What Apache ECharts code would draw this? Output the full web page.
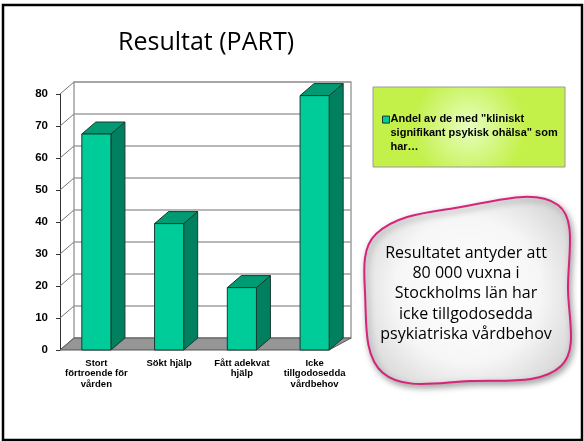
<!DOCTYPE html>
<html>
<head>
<meta charset="utf-8">
<script src="https://cdn.jsdelivr.net/npm/echarts@6/dist/echarts.min.js"></script>
<style>
  html, body { margin: 0; padding: 0; background: #fff; }
  #main { width: 584px; height: 441px; }
</style>
</head>
<body>
<div id="main"></div>
<script>
var categories = ['Stort\nförtroende för\nvården', 'Sökt hjälp', 'Fått adekvat\nhjälp', 'Icke\ntillgodosedda\nvårdbehov'];
var values = [67.5, 39.5, 19.5, 79.5];
var yTicks = [0, 10, 20, 30, 40, 50, 60, 70, 80];
var seriesName = 'Andel av de med "kliniskt\nsignifikant psykisk ohälsa" som\nhar…';

// 3D depth offset
var DX = 14, DY = -12;

var chart = echarts.init(document.getElementById('main'));

function renderWalls(params, api) {
  var cs = params.coordSys;
  var x0 = cs.x, W = cs.width;
  var y0 = api.coord([0, 0])[1];
  var yTop = api.coord([0, 80])[1];
  var children = [];
  // back wall frame
  children.push({
    type: 'rect',
    shape: { x: x0 + DX, y: yTop + DY, width: W - DX, height: y0 - yTop },
    style: { fill: '#fff', stroke: '#a0a0a0', lineWidth: 1.5 }
  });
  yTicks.forEach(function (v) {
    var y = api.coord([0, v])[1];
    if (v > 0) {
      children.push({
        type: 'line',
        shape: { x1: x0 + DX, y1: y + DY, x2: x0 + W, y2: y + DY },
        style: { stroke: '#a0a0a0', lineWidth: 1.5 }
      });
    }
    children.push({
      type: 'line',
      shape: { x1: x0, y1: y, x2: x0 + DX, y2: y + DY },
      style: { stroke: '#777', lineWidth: 1 }
    });
  });
  // floor
  children.push({
    type: 'polygon',
    shape: { points: [[x0, y0], [x0 + W - 22, y0], [x0 + W, y0 + DY], [x0 + DX, y0 + DY]] },
    style: { fill: '#969696', stroke: '#555', lineWidth: 1 }
  });
  return { type: 'group', children: children };
}

function renderBar(params, api) {
  var idx = api.value(0);
  var p0 = api.coord([idx, 0]);
  var p1 = api.coord([idx, api.value(1)]);
  var bw = api.size([1, 0])[0] * 0.4;
  var x = p0[0] - bw / 2, xr = x + bw;
  var yb = p0[1], yt = p1[1];
  var line = { stroke: '#1a3a30', lineWidth: 1 };
  return {
    type: 'group',
    children: [
      {
        type: 'polygon',
        shape: { points: [[xr, yt], [xr + DX, yt + DY], [xr + DX, yb + DY], [xr, yb]] },
        style: Object.assign({ fill: '#00805f' }, line)
      },
      {
        type: 'polygon',
        shape: { points: [[x, yt], [x + DX, yt + DY], [xr + DX, yt + DY], [xr, yt]] },
        style: Object.assign({ fill: '#009b73' }, line)
      },
      {
        type: 'rect',
        shape: { x: x, y: yt, width: bw, height: yb - yt },
        style: Object.assign({ fill: '#00cc99' }, line)
      }
    ]
  };
}

var option = {
  backgroundColor: '#fff',
  animation: false,
  title: {
    text: 'Resultat (PART)',
    left: 113,
    top: 25,
    textStyle: { fontFamily: '"Comic Sans MS", "Open Sans", sans-serif', fontSize: 25, fontWeight: 'normal', color: '#000' }
  },
  legend: {
    data: [seriesName],
    left: 377,
    top: 107,
    z: 10,
    // square sits at the first text line; the lone move keeps the icon box tall
    icon: 'path://M0 0H6V6H0Z M0 29',
    itemWidth: 7,
    itemHeight: 36,
    itemGap: 0,
    itemStyle: { color: '#00cc99', borderColor: '#1a3a30', borderWidth: 1 },
    textStyle: { fontFamily: 'Arial, "Liberation Sans", sans-serif', fontSize: 11, fontWeight: 'bold', color: '#000', lineHeight: 14, padding: [0, 0, 0, -4] }
  },
  grid: { left: 60, top: 94, width: 291, height: 256 },
  xAxis: {
    type: 'category',
    data: categories,
    axisLine: { show: false },
    axisTick: { show: false },
    axisLabel: {
      margin: 8,
      interval: 0,
      fontFamily: 'Arial, "Liberation Sans", sans-serif',
      fontSize: 9.5,
      fontWeight: 'bold',
      color: '#000',
      lineHeight: 10.5
    }
  },
  yAxis: {
    type: 'value',
    min: 0,
    max: 80,
    interval: 10,
    axisLine: { show: true, lineStyle: { color: '#333', width: 1 } },
    axisTick: { show: true, length: 4, lineStyle: { color: '#333' } },
    splitLine: { show: false },
    axisLabel: {
      margin: 12,
      fontFamily: 'Arial, "Liberation Sans", sans-serif',
      fontSize: 11.5,
      fontWeight: 'bold',
      color: '#000'
    }
  },
  graphic: [
    {
      type: 'rect',
      z: 0,
      shape: { x: 3, y: 5, width: 579, height: 435 },
      style: { fill: 'none', stroke: '#000', lineWidth: 2.5 }
    },
    {
      type: 'rect',
      z: 1,
      shape: { x: 373, y: 87, width: 192, height: 80 },
      style: {
        fill: new echarts.graphic.RadialGradient(0.5, 0.5, 0.7, [
          { offset: 0, color: '#e6ffc0' },
          { offset: 1, color: '#c4f04a' }
        ]),
        stroke: '#9a9a9a',
        lineWidth: 1
      }
    },
    {
      type: 'polygon',
      z: 1,
      shape: {
        points: [[365, 292], [376, 234], [455, 208], [558, 205], [568, 290], [561, 366], [470, 381], [383, 373]],
        smooth: 0.38
      },
      style: {
        fill: new echarts.graphic.RadialGradient(0.5, 0.5, 0.7, [
          { offset: 0, color: '#ffffff' },
          { offset: 0.55, color: '#f6f6f6' },
          { offset: 1, color: '#cfcfcf' }
        ]),
        stroke: '#d6247a',
        lineWidth: 2,
        shadowBlur: 6,
        shadowOffsetX: 2,
        shadowOffsetY: 3,
        shadowColor: 'rgba(0,0,0,0.35)'
      }
    },
    {
      type: 'text',
      z: 2,
      x: 466,
      y: 243,
      style: {
        text: 'Resultatet antyder att\n80 000 vuxna i\nStockholms län har\nicke tillgodosedda\npsykiatriska vårdbehov',
        fontFamily: '"Comic Sans MS", "Open Sans", sans-serif',
        fontSize: 16,
        lineHeight: 20.3,
        fill: '#000',
        align: 'center',
        verticalAlign: 'top'
      }
    }
  ],
  series: [
    {
      type: 'custom',
      name: 'walls',
      silent: true,
      z: 1,
      renderItem: renderWalls,
      data: [[0, 0]]
    },
    {
      type: 'custom',
      name: seriesName,
      z: 3,
      itemStyle: { color: '#00cc99' },
      renderItem: renderBar,
      data: values.map(function (v, i) { return [i, v]; })
    }
  ]
};

chart.setOption(option);
</script>
</body>
</html>
